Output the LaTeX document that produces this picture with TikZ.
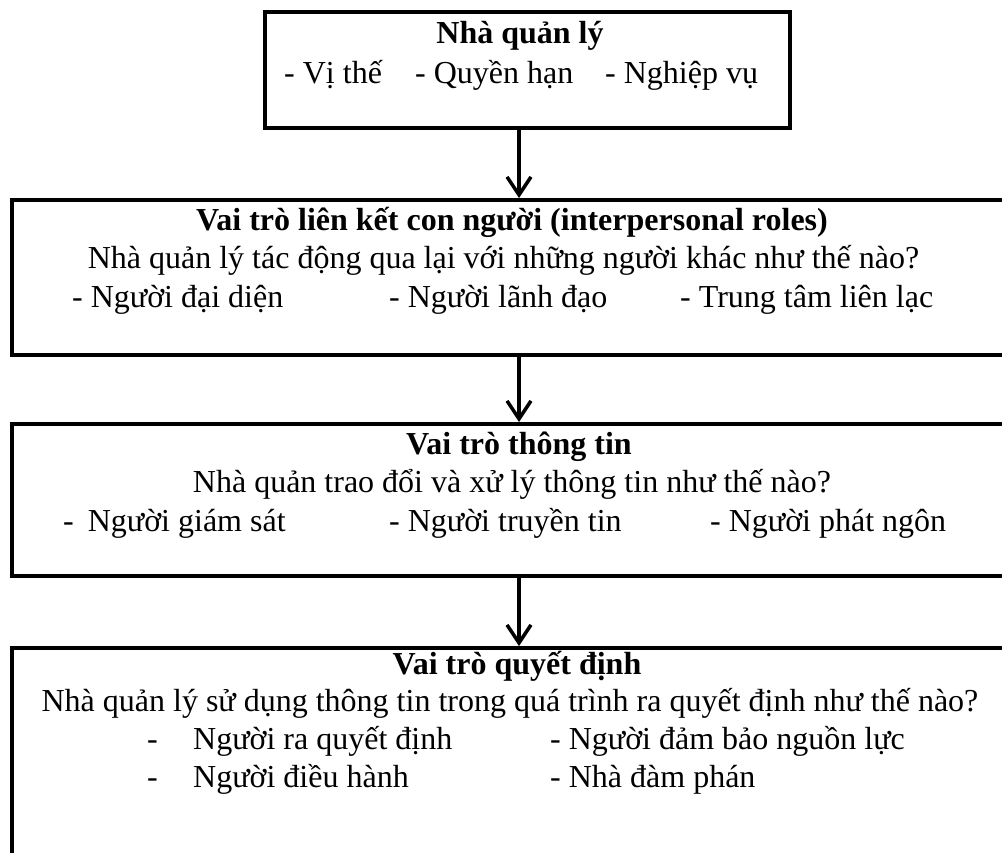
\documentclass[tikz,border=0pt]{standalone}
\usepackage{fontspec}
\setmainfont{Liberation Serif}
\usetikzlibrary{arrows.meta}
\begin{document}
\begin{tikzpicture}[x=1pt,y=-1pt,
  frame/.style={draw=black, line width=4pt, inner sep=0pt, anchor=north west},
  txt/.style={inner sep=0pt, anchor=base west, font=\fontsize{32}{38}\selectfont},
  ctxt/.style={txt, anchor=base},
  head/.style={ctxt, font=\fontsize{32}{38}\selectfont\bfseries},
  link/.style={line width=3.5pt, -{Straight Barb[length=18pt,width=24pt]}}]
\useasboundingbox (0,0) rectangle (1002,852);
\clip (0,0) rectangle (1002,852);

% frames (the lower three run past the right edge)
\node[frame, minimum width=525pt, minimum height=116pt] (mgr) at (263,10) {};
\node[frame, minimum width=1030pt, minimum height=155pt] (inter) at (10,198) {};
\node[frame, minimum width=1030pt, minimum height=152pt] (info) at (10,422) {};
\node[frame, minimum width=1030pt, minimum height=260pt] (decide) at (10,646) {};

% connectors down the middle
\coordinate (axis) at (519,0);
\draw[link] (mgr.south -| axis) -- (inter.north -| axis);
\draw[link] (inter.south -| axis) -- (info.north -| axis);
\draw[link] (info.south -| axis) -- (decide.north -| axis);

% manager
\node[head] (mgrT) at (520,43) {Nhà quản lý};
\node[txt] (mgrA) at (284,83) {- Vị thế};
\node[txt] (mgrB) at (415,83) {- Quyền hạn};
\node[txt] (mgrC) at (605,83) {- Nghiệp vụ};

% interpersonal roles
\node[head] (interT) at (512,230) {Vai trò liên kết con người (interpersonal roles)};
\node[ctxt] (interQ) at (503.5,268) {Nhà quản lý tác động qua lại với những người khác như thế nào?};
\node[txt] (interA) at (72,307) {- Người đại diện};
\node[txt] (interB) at (389,307) {- Người lãnh đạo};
\node[txt] (interC) at (680,307) {- Trung tâm liên lạc};

% informational roles
\node[head] (infoT) at (519,454) {Vai trò thông tin};
\node[ctxt] (infoQ) at (512,492) {Nhà quản trao đổi và xử lý thông tin như thế nào?};
\node[txt] (infoA) at (63,531) {-\hspace{14pt}Người giám sát};
\node[txt] (infoB) at (389,531) {- Người truyền tin};
\node[txt] (infoC) at (710,531) {- Người phát ngôn};

% decisional roles
\node[head] (decT) at (517,674) {Vai trò quyết định};
\node[ctxt] (decQ) at (510,711) {Nhà quản lý sử dụng thông tin trong quá trình ra quyết định như thế nào?};
\node[txt] (decA1) at (147,749) {-};
\node[txt] (decA) at (193,749) {Người ra quyết định};
\node[txt] (decB) at (550,749) {- Người đảm bảo nguồn lực};
\node[txt] (decC1) at (147,787) {-};
\node[txt] (decC) at (193,787) {Người điều hành};
\node[txt] (decD) at (550,787) {- Nhà đàm phán};
\end{tikzpicture}
\end{document}
